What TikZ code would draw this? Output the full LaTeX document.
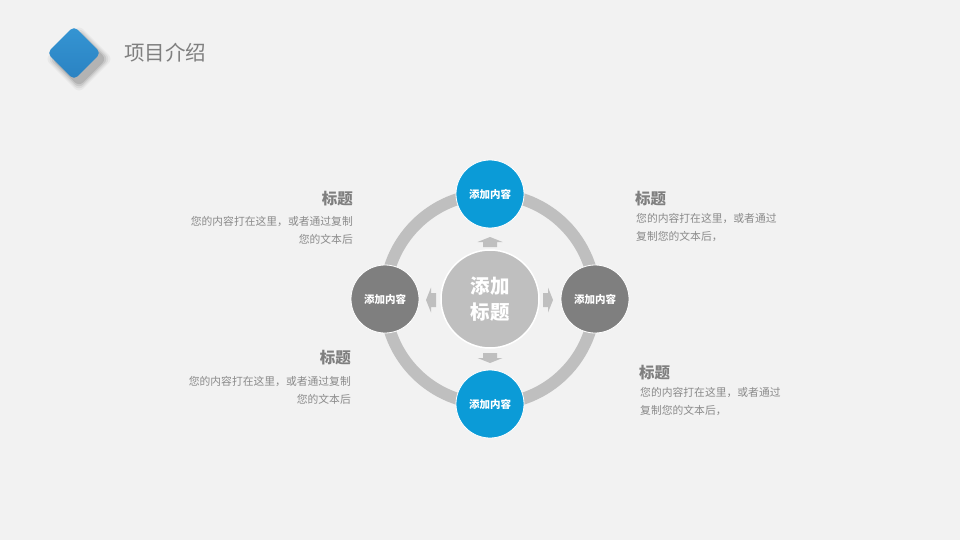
\documentclass[tikz,border=0pt]{standalone}
\usepackage{fontspec}
\setmainfont{Noto Sans CJK SC}
\definecolor{bgc}{HTML}{F2F2F2}
\definecolor{ringc}{HTML}{BFBFBF}
\definecolor{bluec}{HTML}{0B9BD7}
\definecolor{grayc}{HTML}{7F7F7F}
\definecolor{txtc}{HTML}{7F7F7F}
\definecolor{bodyc}{HTML}{8A8A8A}
\definecolor{diatop}{HTML}{3595D3}
\definecolor{diabot}{HTML}{2A82C2}
\tikzset{
  ring/.style={draw=ringc, line width=12pt},
  smallcirc/.style={circle, inner sep=0pt, minimum size=68pt, draw=white, line width=0.8pt,
    text=white, font=\bfseries\fontsize{10.5}{12}\selectfont},
  bluecirc/.style={smallcirc, fill=bluec},
  graycirc/.style={smallcirc, fill=grayc},
  centercirc/.style={circle, inner sep=0pt, minimum size=98pt, fill=ringc, draw=white, line width=1.5pt,
    text=white, align=center, font=\bfseries\fontsize{19.5}{26}\selectfont},
  arrowfill/.style={fill=ringc},
  headtxt/.style={inner sep=0pt, text=txtc, font=\bfseries\fontsize{15.5}{18}\selectfont},
  bodytxt/.style={inner sep=0pt, text=bodyc, font=\fontsize{10.8}{18}\selectfont},
  titletxt/.style={inner sep=0pt, text=grayc, font=\fontsize{20.5}{24}\selectfont},
}
\newcommand\blockarrow[2]{%
  \fill[arrowfill, shift={#1}, rotate=#2] (-5,-7) -- (0,-7) -- (0,-12.5) -- (5,0) -- (0,12.5) -- (0,7) -- (-5,7) -- cycle;}
\begin{document}
\begin{tikzpicture}[x=1pt,y=-1pt]
\fill[bgc] (0,0) rectangle (960,540);
\useasboundingbox (0,0) rectangle (960,540);
% header diamond with soft shadow
\foreach \o/\s in {0.04/48,0.06/45,0.08/42,0.1/39}{
  \node[rectangle, rounded corners=6pt, minimum size=\s pt, rotate=45, fill=black, opacity=\o] at (79,59) {};
}
\node[rectangle, rounded corners=5pt, minimum size=38pt, rotate=45, top color=diatop, bottom color=diabot] (dia) at (74,53) {};
\node[titletxt, anchor=west] (title) at (124,53) {项目介绍};
% ring
\coordinate (c) at (490,299);
\draw[ring] (c) circle (105);
% center
\node[centercirc] (ctr) at (c) {添加\\标题};
% arrows
\blockarrow{(490,242)}{90}
\blockarrow{(490,358)}{-90}
\blockarrow{(431,300)}{180}
\blockarrow{(548,300)}{0}
% satellites
\node[bluecirc] (top) at (490,194) {添加内容};
\node[bluecirc] (bot) at (490,404) {添加内容};
\node[graycirc] (lft) at (385,299) {添加内容};
\node[graycirc] (rgt) at (595,299) {添加内容};
% text blocks
\node[headtxt, anchor=east] (h1) at (353,199) {标题};
\node[bodytxt, anchor=east, align=right] (b1) at (353,230) {您的内容打在这里，或者通过复制\\您的文本后};
\node[headtxt, anchor=west] (h2) at (635,199) {标题};
\node[bodytxt, anchor=west, align=left] (b2) at (636,228) {您的内容打在这里，或者通过\\复制您的文本后，};
\node[headtxt, anchor=east] (h3) at (351,358) {标题};
\node[bodytxt, anchor=east, align=right] (b3) at (351,390.5) {您的内容打在这里，或者通过复制\\您的文本后};
\node[headtxt, anchor=west] (h4) at (639,373) {标题};
\node[bodytxt, anchor=west, align=left] (b4) at (640,401.5) {您的内容打在这里，或者通过\\复制您的文本后，};
\end{tikzpicture}
\end{document}
